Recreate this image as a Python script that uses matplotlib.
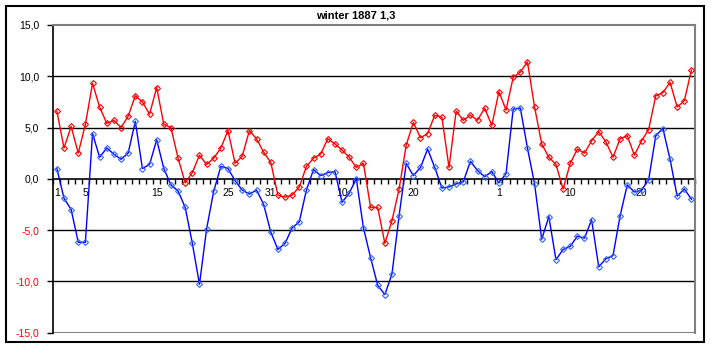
import matplotlib
matplotlib.use("Agg")
import matplotlib.pyplot as plt
from matplotlib.patches import Rectangle
from matplotlib.ticker import FixedLocator, FuncFormatter

plt.rcParams['font.family'] = ['Liberation Sans', 'DejaVu Sans']

title = "winter 1887 1,3"

red_values = [
    6.6, 3.0, 5.1, 2.5, 5.3, 9.3, 7.0, 5.4, 5.7, 5.0,
    6.1, 8.1, 7.5, 6.3, 8.9, 5.3, 5.0, 2.0, -0.4, 0.6,
    2.3, 1.4, 2.0, 3.0, 4.7, 1.5, 2.2, 4.7, 3.9, 2.6,
    1.6, -1.6, -1.8, -1.6, -0.8, 1.2, 2.0, 2.4, 3.9, 3.4,
    2.8, 2.1, 1.1, 1.5, -2.8, -2.8, -6.3, -4.1, -1.0, 3.3,
    5.5, 4.0, 4.4, 6.2, 6.0, 1.1, 6.6, 5.7, 6.2, 5.7,
    6.9, 5.2, 8.5, 6.7, 9.9, 10.4, 11.4, 7.0, 3.4, 2.1,
    1.4, -1.0, 1.5, 2.9, 2.5, 3.7, 4.6, 3.6, 2.1, 3.9,
    4.2, 2.3, 3.7, 4.8, 8.1, 8.4, 9.4, 7.0, 7.6, 10.6,
]

blue_values = [
    1.0, -1.9, -3.0, -6.2, -6.2, 4.4, 2.1, 3.0, 2.4, 1.9,
    2.5, 5.6, 1.0, 1.4, 3.8, 1.0, -0.6, -1.2, -2.8, -6.3,
    -10.3, -4.9, -1.2, 1.2, 1.0, -0.2, -1.1, -1.5, -1.1, -2.5,
    -5.2, -6.9, -6.3, -4.8, -4.2, -1.1, 0.9, 0.3, 0.6, 0.7,
    -2.3, -1.4, 0.0, -4.8, -7.7, -10.4, -11.3, -9.3, -3.6, 1.5,
    0.3, 1.1, 2.9, 1.1, -0.9, -0.8, -0.5, -0.3, 1.7, 0.8,
    0.2, 0.7, -0.4, 0.5, 6.8, 6.9, 3.0, -0.5, -5.9, -3.7,
    -7.9, -6.9, -6.6, -5.6, -5.8, -4.0, -8.6, -7.8, -7.5, -3.6,
    -0.6, -1.3, -1.1, -0.1, 4.2, 4.9, 1.9, -1.7, -1.0, -2.0,
]

label_positions = [0, 4, 14, 24, 30, 40, 50, 62, 72, 82]
label_texts = ['1', '5', '15', '25', '31', '10', '20', '1', '10', '20']

y_ticks = [-15, -10, -5, 0, 5, 10, 15]

W, H = 711, 348
fig = plt.figure(figsize=(W / 100, H / 100), dpi=100)

# outer chart border
fig.patches.append(Rectangle((5.5 / W, 1 - 342 / H), 698.5 / W, 336.5 / H,
                             transform=fig.transFigure, fill=False,
                             edgecolor='black', linewidth=1.5))

left, right, top, bottom = 53.3, 695.0, 25.0, 332.5
ax = fig.add_axes([left / W, 1 - bottom / H, (right - left) / W, (bottom - top) / H])

n = len(red_values)
x = list(range(n))

for yv in [-10, -5, 5, 10]:
    ax.axhline(yv, color='black', linewidth=1.0, zorder=1)
ax.axhline(-15, color='#808080', linewidth=1.5, zorder=1)

ax.plot(x, red_values, color='#ff0000', linewidth=1.0, marker='D', markersize=3.0,
        markerfacecolor='none', markeredgecolor='#ff0000', markeredgewidth=0.8, zorder=3,
        clip_on=False)
ax.plot(x, blue_values, color='#0000ff', linewidth=1.0, marker='D', markersize=3.0,
        markerfacecolor='none', markeredgecolor='#3366ff', markeredgewidth=0.8, zorder=3,
        clip_on=False)

ax.set_xlim(-0.5, n - 0.5)
ax.set_ylim(-15, 15)

ax.spines['bottom'].set_position(('data', 0))
ax.spines['bottom'].set_color('black')
ax.spines['bottom'].set_linewidth(1.2)
ax.spines['bottom'].set_zorder(2)
ax.spines['left'].set_color('black')
ax.spines['left'].set_linewidth(1.2)
ax.spines['top'].set_color('#808080')
ax.spines['top'].set_linewidth(1.5)
ax.spines['right'].set_color('#808080')
ax.spines['right'].set_linewidth(1.5)

ax.set_yticks(y_ticks)
ax.yaxis.set_major_formatter(FuncFormatter(lambda v, p: f"{v:.1f}".replace('.', ',')))
ax.tick_params(axis='y', direction='out', length=4, width=1, labelsize=7.5, pad=6,
               colors='black')
for lab, v in zip(ax.get_yticklabels(), y_ticks):
    lab.set_color('#ff0000' if v < 0 else 'black')

ax.xaxis.set_major_locator(FixedLocator(label_positions))
ax.set_xticklabels(label_texts)
ax.xaxis.set_minor_locator(FixedLocator([i - 0.5 for i in range(n + 1)]))
ax.tick_params(axis='x', which='major', length=0, labelsize=7.5, pad=7)
ax.tick_params(axis='x', which='minor', direction='out', length=3.5, width=1)

ax.patch.set_facecolor('white')
fig.text(0.5, 1 - 15 / H, title, ha='center', va='center', fontsize=8, fontweight='bold')

fig.savefig('out.png', dpi=100)
